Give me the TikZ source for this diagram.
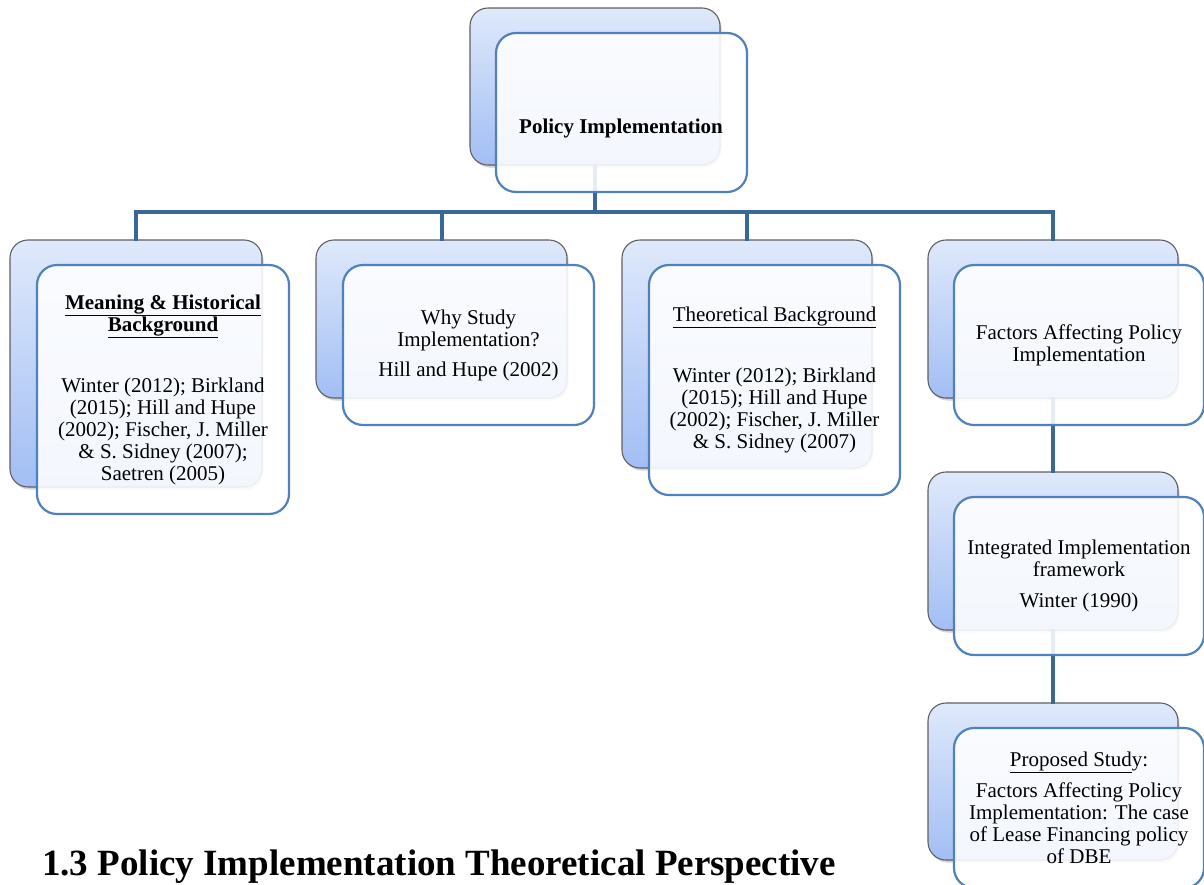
\documentclass[tikz,border=0pt]{standalone}
\usepackage{fontspec}
\setmainfont{Liberation Serif}
\usetikzlibrary{shadows,backgrounds}
\definecolor{conn}{HTML}{3B6797}
\definecolor{fborder}{HTML}{4F81BD}
\definecolor{btop}{HTML}{DFE9FB}
\definecolor{bbot}{HTML}{A2BEF4}
\definecolor{bborder}{HTML}{606060}
\begin{document}
\begin{tikzpicture}[x=1pt,y=-1pt,
 backbox/.style={draw=bborder, line width=1.1pt, rounded corners=18pt, top color=btop, bottom color=bbot,
   drop shadow={shadow xshift=1.5pt, shadow yshift=-2.5pt, opacity=0.35}, minimum width=250pt, minimum height=157pt, inner sep=0pt},
 frontbox/.style={draw=fborder, line width=2.2pt, rounded corners=20pt, fill=white, fill opacity=0.88, text opacity=1,
   minimum width=251pt, minimum height=159pt, align=center, font=\fontsize{21}{22}\selectfont, inner sep=0pt},
 link/.style={draw=conn, line width=4pt, line cap=rect},
 titletext/.style={font=\bfseries\fontsize{21}{22}\selectfont, inner sep=0pt},
 heading/.style={font=\bfseries\fontsize{37}{40}\selectfont, inner sep=0pt}]
\useasboundingbox (0,0) rectangle (1204,884);
\fill[white] (0,0) rectangle (1204,884);

% back boxes
\node[backbox] (tb) at (595,86.5) {};
\node[backbox, minimum width=252pt, minimum height=247pt] (b1b) at (136,363.5) {};
\node[backbox, minimum width=251pt, minimum height=158pt] (b2b) at (441.5,319) {};
\node[backbox, minimum height=228pt] (b3b) at (747,354) {};
\node[backbox, minimum height=158pt] (b4b) at (1053,319) {};
\node[backbox, minimum height=158pt] (b5b) at (1053,551) {};
\node[backbox] (b6b) at (1053,781.5) {};

% connectors
\coordinate (bus) at (595,212);
\draw[link] (tb.south) -- (bus);
\draw[link] (bus) -| (b1b.north);
\draw[link] (bus) -| (b2b.north);
\draw[link] (bus) -| (b3b.north);
\draw[link] (bus) -| (b4b.north);
\draw[link] (b4b.south) -- (b5b.north);
\draw[link] (b5b.south) -- (b6b.north);

% front boxes
\node[frontbox] (tf) at (621.5,112.5) {};
\node[titletext] (tt) at (621,128) {Policy Implementation};

\node[frontbox, minimum width=252pt, minimum height=249pt] (b1f) at (163,389.5)
 {\textbf{\underline{Meaning \& Historical}}\\ \textbf{\underline{Background}}\\[39pt]
  Winter (2012); Birkland\\ (2015); Hill and Hupe\\ (2002); Fischer, J. Miller\\ \& S. Sidney (2007);\\ Saetren (2005)};

\node[frontbox, minimum height=160pt] (b2f) at (468.5,345)
 {Why Study\\ Implementation?\\[8pt] Hill and Hupe (2002)};

\node[frontbox, minimum height=230pt] (b3f) at (774.5,380)
 {\underline{Theoretical Background}\\[39pt]
  Winter (2012); Birkland\\ (2015); Hill and Hupe\\ (2002); Fischer, J. Miller\\ \& S. Sidney (2007)};

\node[frontbox, minimum width=250pt, minimum height=160pt] (b4f) at (1079,345)
 {Factors Affecting Policy\\ Implementation};

\node[frontbox, minimum width=250pt, minimum height=158pt] (b5f) at (1079,576)
 {Integrated Implementation\\ framework\\[9pt] Winter (1990)};

\node[frontbox, minimum width=250pt, minimum height=160pt] (b6f) at (1079,808)
 {\underline{Proposed Stud}y:\\[9pt] Factors Affecting Policy\\ Implementation: The case\\ of Lease Financing policy\\ of DBE};

\node[heading, anchor=base west] (head) at (42,875) {1.3 Policy Implementation Theoretical Perspective};
\end{tikzpicture}
\end{document}
